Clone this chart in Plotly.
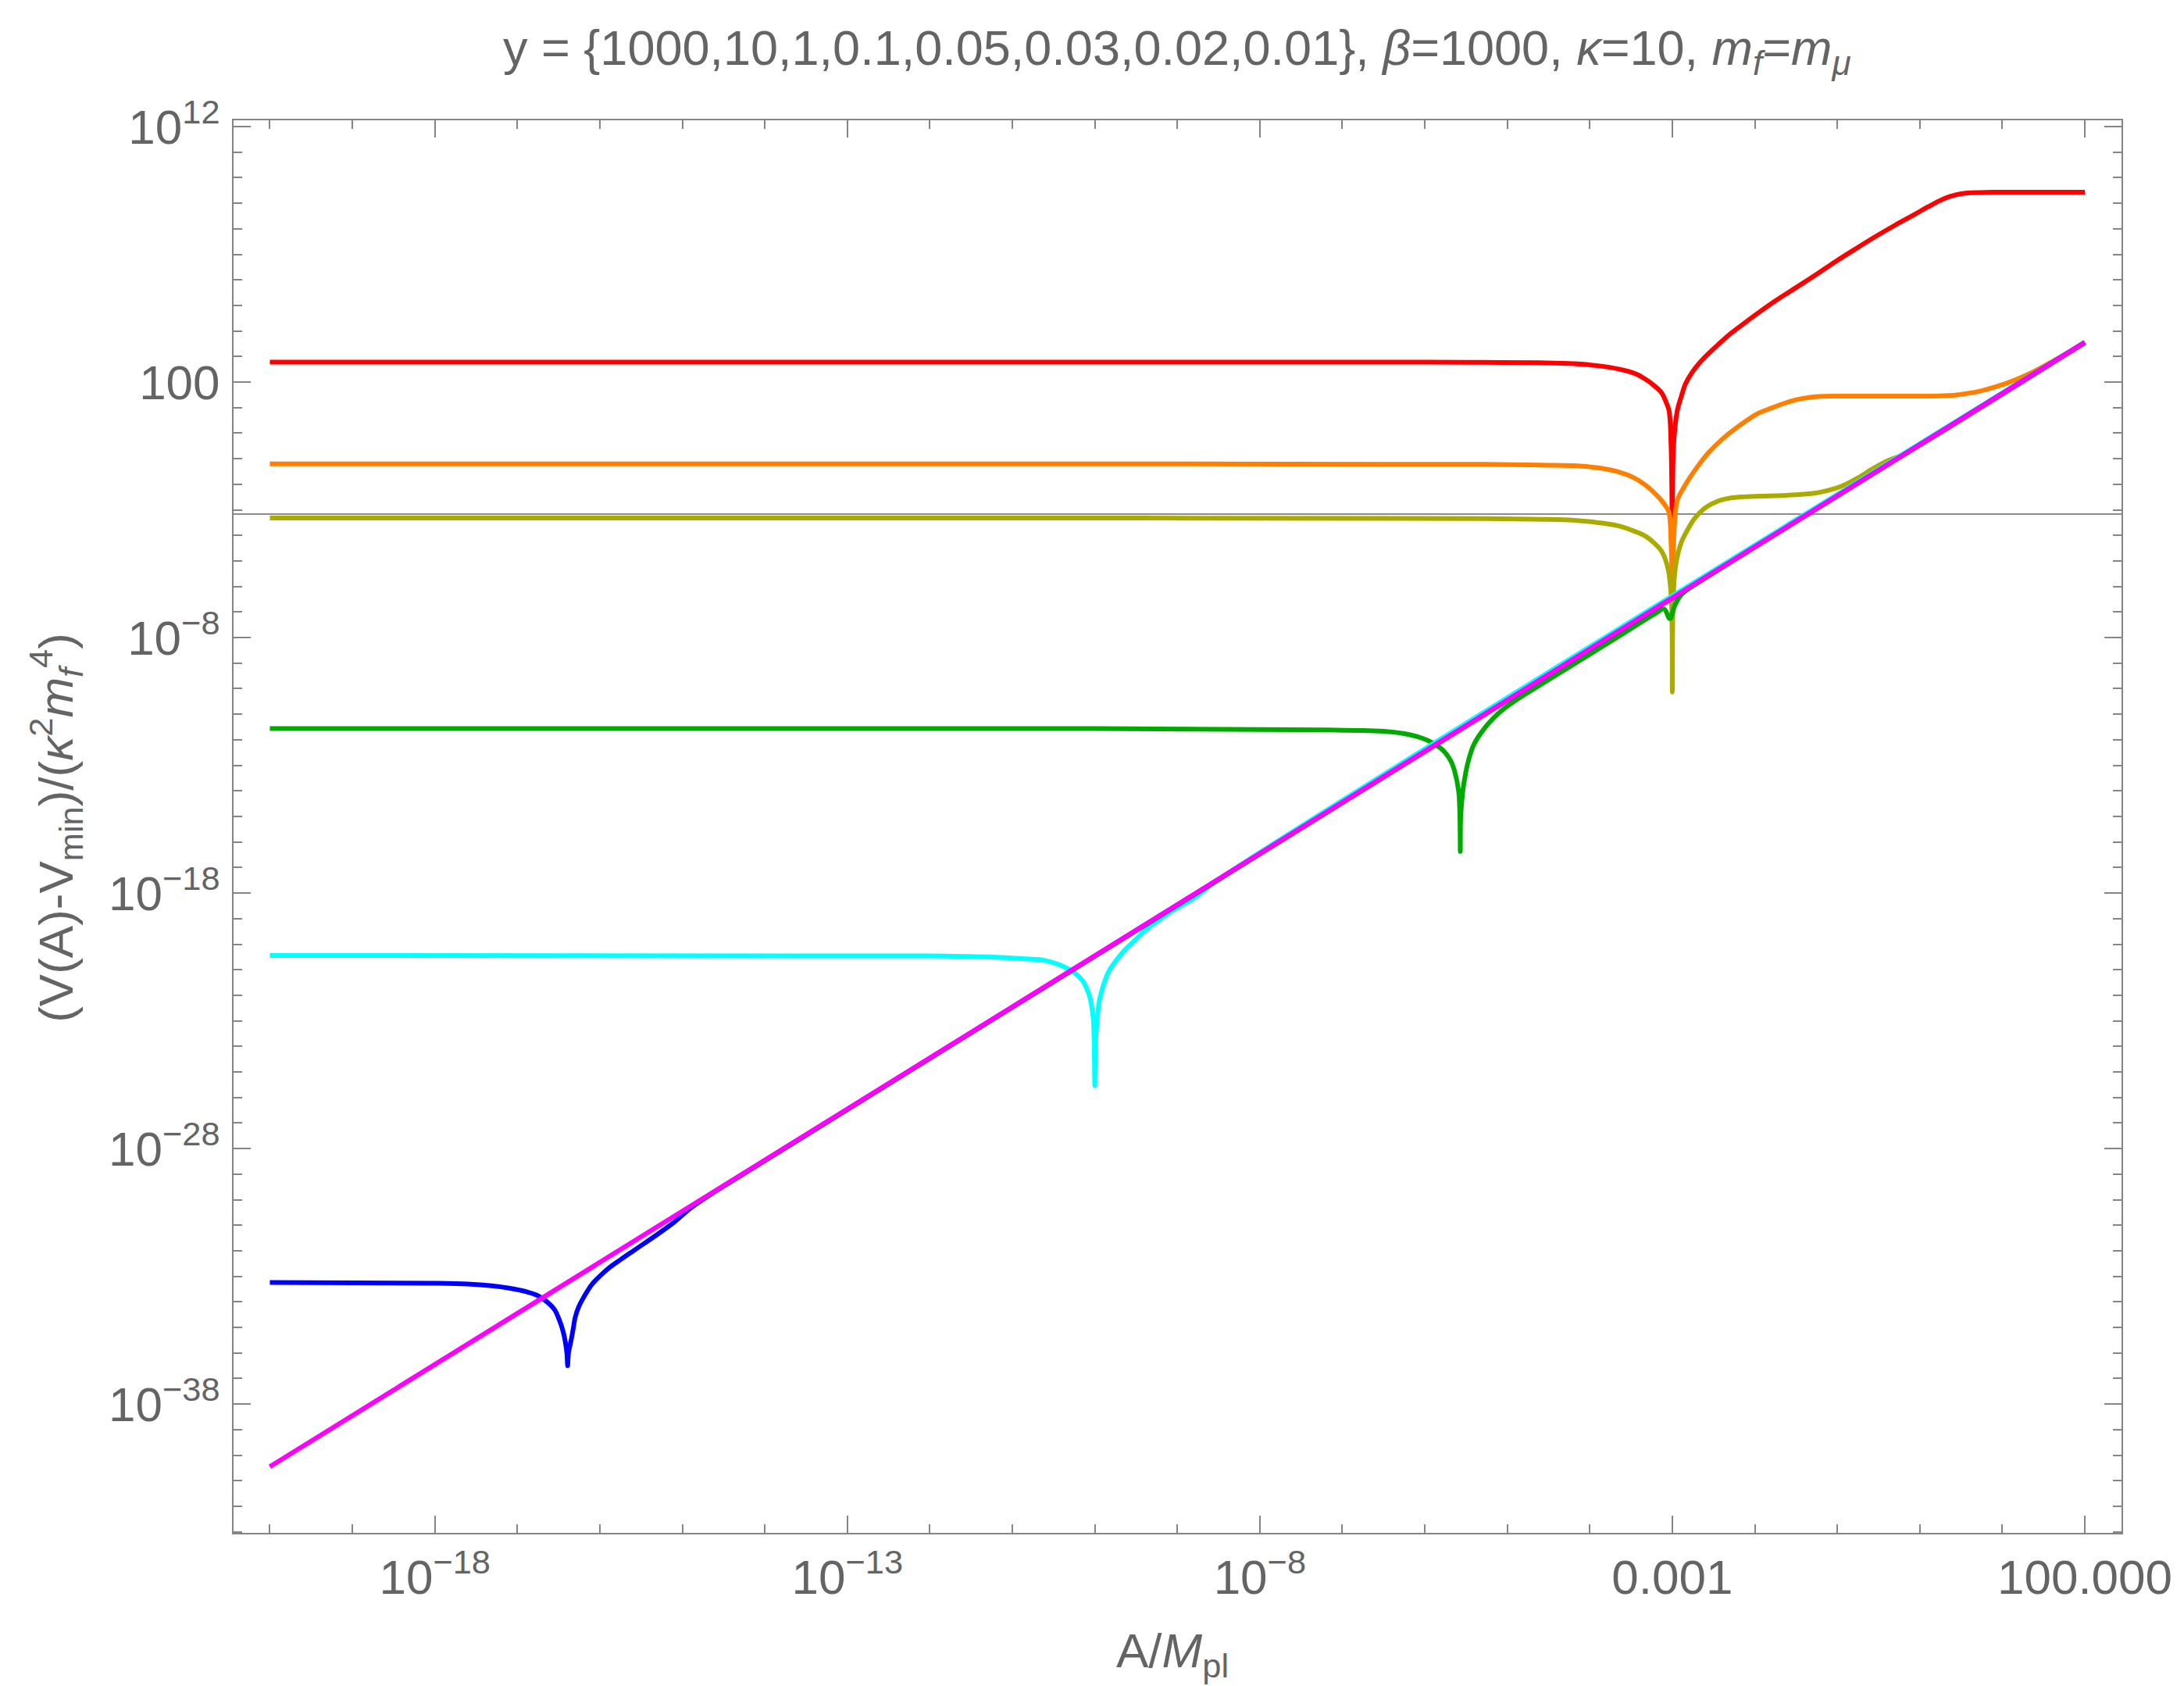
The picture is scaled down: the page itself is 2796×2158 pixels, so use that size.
import plotly.graph_objects as go

# ---- data: log10(A/M_pl) and log10((V(A)-V_min)/(kappa^2 m_f^4)) along each curve ----
red_lx = [-20, -10, -6, -5.28, -4.6, -4.19, -3.9, -3.65, -3.45, -3.32, -3.22, -3.13, -3.08, -3.04,
          -3.015, -3.0, -2.985, -2.94, -2.89, -2.84, -2.76, -2.67, -2.56, -2.45, -2.3, -2.13, -1.97,
          -1.75, -1.49, -1.25, -1.02, -0.78, -0.545, -0.3, -0.07, 0.1, 0.24, 0.36, 0.50, 0.62, 0.72,
          0.9, 1.19, 2.0]
red_ly = [2.78, 2.78, 2.78, 2.77, 2.755, 2.72, 2.64, 2.51, 2.33, 2.10, 1.86, 1.58, 1.25, 0.88,
          -0.5, -3.5, -0.5, 0.88, 1.45, 1.93, 2.38, 2.75, 3.12, 3.45, 3.88, 4.30, 4.68,
          5.18, 5.72, 6.22, 6.72, 7.21, 7.68, 8.14, 8.55, 8.86, 9.10, 9.26, 9.37, 9.41, 9.42,
          9.43, 9.43, 9.43]

orange_lx = [-20, -10, -5.28, -4.6, -4.09, -3.85, -3.65, -3.45, -3.32, -3.22, -3.13, -3.08, -3.04,
             -3.015, -3.0, -2.985, -2.94, -2.86, -2.78, -2.67, -2.56, -2.4, -2.24, -1.97, -1.8, -1.65,
             -1.5, -1.34, -1.18, -1.02, -0.5, 0.23, 0.45, 0.56, 0.72, 0.87, 1.03, 1.19, 1.33, 1.46,
             1.75, 2.0]
orange_ly = [-1.2, -1.2, -1.22, -1.25, -1.29, -1.38, -1.52, -1.77, -2.05, -2.33, -2.64, -2.86, -3.10,
             -4.3, -5.6, -4.3, -2.64, -2.12, -1.70, -1.20, -0.76, -0.25, 0.17, 0.76, 0.98, 1.16,
             1.31, 1.40, 1.44, 1.45, 1.45, 1.46, 1.50, 1.55, 1.64, 1.77, 1.93, 2.13, 2.33, 2.55,
             3.07, 3.56]

olive_lx = [-20, -10, -5.28, -4.6, -4.19, -3.9, -3.65, -3.45, -3.32, -3.22, -3.13, -3.05, -3.01,
            -3.0, -2.99, -2.96, -2.89, -2.81, -2.73, -2.6, -2.45, -2.3, -2.13, -1.75, -1.5, -1.26,
            -1.1, -0.93, -0.75, -0.55, -0.38, -0.2, 2.0]
olive_ly = [-3.32, -3.32, -3.34, -3.37, -3.41, -3.50, -3.63, -3.85, -4.04, -4.30, -4.62, -5.33, -6.61,
            -10.13, -6.6, -5.2, -4.27, -3.75, -3.34, -2.92, -2.66, -2.54, -2.49, -2.45, -2.41, -2.34,
            -2.23, -2.05, -1.75, -1.35, -1.06, -0.83, 3.56]

green_lx = [-20, -10, -7.175, -6.75, -6.45, -6.25, -6.09, -5.97, -5.87, -5.79, -5.73, -5.68, -5.64,
            -5.59, -5.575, -5.57, -5.565, -5.54, -5.505, -5.47, -5.41, -5.33, -5.22, -5.11, -4.96,
            -4.64, -4.28, -3.6, -3.2, -3.1, -3.03, -2.97, -2.89, -2.5, 2.0]
green_ly = [-11.56, -11.56, -11.61, -11.64, -11.68, -11.76, -11.88, -12.02, -12.19, -12.38, -12.60,
            -12.86, -13.21, -14.02, -15.0, -16.37, -15.0, -14.02, -13.3, -12.80, -12.22, -11.78,
            -11.33, -10.97, -10.59, -9.93, -9.21, -7.85, -7.05, -6.88, -7.26, -6.75, -6.32, -5.46, 3.55]

cyan_lx = [-20, -12, -11.3, -10.96, -10.8, -10.65, -10.54, -10.43, -10.35, -10.27, -10.2, -10.14,
           -10.1, -10.06, -10.02, -10.008, -10.0, -9.992, -9.97, -9.95, -9.92, -9.88, -9.83, -9.74,
           -9.64, -9.5, -9.38, -9.22, -9.07, -8.78, -8.5, 2.0]
cyan_ly = [-20.44, -20.46, -20.5, -20.55, -20.58, -20.61, -20.69, -20.80, -20.92, -21.06, -21.25, -21.47,
           -21.72, -22.08, -22.89, -23.9, -25.54, -23.9, -22.89, -22.3, -21.87, -21.45, -21.06, -20.63,
           -20.24, -19.8, -19.43, -19.05, -18.71, -18.16, -17.47, 3.55]

blue_lx = [-20, -17.95, -17.6, -17.31, -17.1, -16.89, -16.75, -16.64, -16.55, -16.49, -16.45, -16.42,
           -16.40, -16.39, -16.38, -16.35, -16.32, -16.30, -16.26, -16.21, -16.15, -16.09, -15.98,
           -15.88, -15.75, -15.62, -15.47, -15.33, -15.1, -14.9, -14.6, 2.0]
blue_ly = [-33.24, -33.27, -33.3, -33.37, -33.46, -33.60, -33.76, -34.0, -34.3, -34.72, -35.1, -35.53,
           -36.0, -36.50, -36.0, -35.53, -35.0, -34.62, -34.22, -33.90, -33.57, -33.29, -32.93,
           -32.65, -32.35, -32.06, -31.73, -31.42, -30.88, -30.33, -29.67, 3.55]

magenta_lx = [-20, 2.0]
magenta_ly = [-40.45, 3.55]

curves = [
    ("y=1000", red_lx, red_ly, "#ff0000"),
    ("y=10", orange_lx, orange_ly, "#ff8000"),
    ("y=1", olive_lx, olive_ly, "#aaaa00"),
    ("y=0.1", green_lx, green_ly, "#00aa00"),
    ("y=0.05", cyan_lx, cyan_ly, "#00ffff"),
    ("y=0.03", blue_lx, blue_ly, "#0000ff"),
    ("y=0.01", magenta_lx, magenta_ly, "#ff00ff"),
]

# axis ranges (log10 units) and tick positions
x_range = [-20.44, 2.445]
y_range = [-43.04, 12.245]
x_major = [-18, -13, -8, -3, 2]
x_major_text = ["10<sup>\u221218</sup>", "10<sup>\u221213</sup>", "10<sup>\u22128</sup>", "0.001", "100.000"]
y_major = [12, 2, -8, -18, -28, -38]
y_major_text = ["10<sup>12</sup>", "100", "10<sup>\u22128</sup>", "10<sup>\u221218</sup>",
                "10<sup>\u221228</sup>", "10<sup>\u221238</sup>"]
axis_origin_ly = -3.17

FONT = "Liberation Sans, Arial, Helvetica, sans-serif"
TXT = "#646464"
FRAME = "#858585"

fig = go.Figure()
for name, lx, ly, color in curves:
    fig.add_trace(go.Scatter(
        x=[10 ** v for v in lx], y=[10 ** v for v in ly], mode="lines", name=name,
        line=dict(color=color, width=6, shape="spline", smoothing=1.0),
        showlegend=False, hoverinfo="skip"))

# horizontal axis line crossing the frame
fig.add_shape(type="line", xref="paper", x0=0, x1=1, yref="y",
              y0=10 ** axis_origin_ly, y1=10 ** axis_origin_ly,
              line=dict(color="#8c8c8c", width=2), layer="below")

def axis(rng, major, text, standoff):
    minor_vals = [10.0 ** k for k in range(int(rng[0]) - 1, int(rng[1]) + 2) if k not in major]
    return dict(
        type="log", range=rng, showgrid=False, zeroline=False,
        showline=True, linecolor=FRAME, linewidth=2, mirror="ticks",
        ticks="inside", ticklen=22, tickwidth=2, tickcolor=FRAME,
        tickvals=[10.0 ** k for k in major], ticktext=text,
        tickfont=dict(family=FONT, size=62, color=TXT),
        ticklabelstandoff=standoff,
        minor=dict(ticks="inside", ticklen=11, tickwidth=2, tickcolor=FRAME, tickvals=minor_vals),
    )

fig.update_layout(
    width=2796, height=2158, autosize=False,
    margin=dict(l=299, r=80, t=154, b=196),
    paper_bgcolor="white", plot_bgcolor="white",
    xaxis=axis(x_range, x_major, x_major_text, 2),
    yaxis=axis(y_range, y_major, y_major_text, 3),
    font=dict(family=FONT, color=TXT),
)

fig.add_annotation(
    text="y = {1000,10,1,0.1,0.05,0.03,0.02,0.01}, <i>\u03b2</i>=1000, <i>\u03ba</i>=10, "
         "<i>m<sub>f</sub></i>=<i>m<sub>\u03bc</sub></i>",
    xref="paper", yref="paper", x=0.4998, y=1.0492, xanchor="center", yanchor="middle",
    showarrow=False, font=dict(family=FONT, size=63, color=TXT))

fig.add_annotation(
    text="(V(A)-V<sub>min</sub>)/(<i>\u03ba</i><sup>2</sup><i>m<sub>f</sub></i><sup>4</sup>)",
    xref="paper", yref="paper", x=-0.0939, y=0.499, xanchor="center", yanchor="middle",
    textangle=-90, showarrow=False, font=dict(family=FONT, size=62, color=TXT))

fig.add_annotation(
    text="A/<i>M</i><sub>pl</sub>",
    xref="paper", yref="paper", x=0.4973, y=-0.0857, xanchor="center", yanchor="middle",
    showarrow=False, font=dict(family=FONT, size=62, color=TXT))

fig.write_html("out.html")
